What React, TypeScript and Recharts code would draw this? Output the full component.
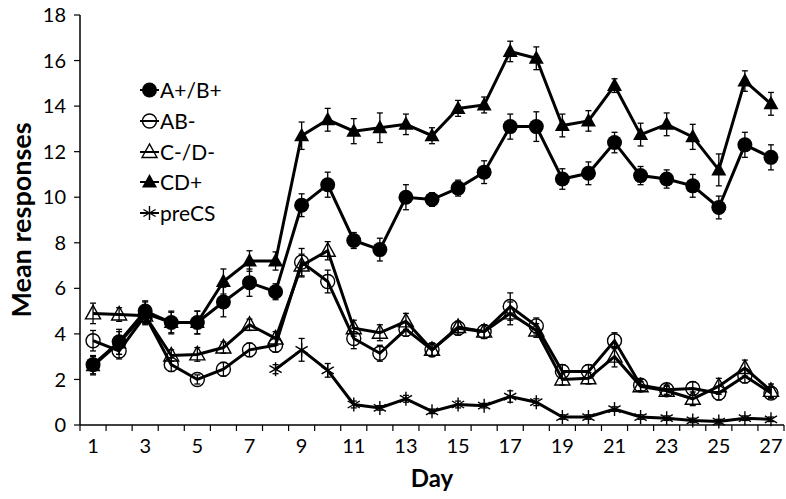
import React from "react"
import { LineChart, Line, XAxis, YAxis, ErrorBar } from "recharts"

const days = [1, 2, 3, 4, 5, 6, 7, 8, 9, 10, 11, 12, 13, 14, 15, 16, 17, 18, 19, 20, 21, 22, 23, 24, 25, 26, 27]

const abPlus = [2.65, 3.65, 5.0, 4.5, 4.5, 5.4, 6.25, 5.85, 9.65, 10.55, 8.1, 7.7, 10.0, 9.9, 10.4, 11.1, 13.1, 13.1, 10.8, 11.05, 12.4, 10.95, 10.8, 10.5, 9.55, 12.3, 11.75]
const abPlusErr = [0.4, 0.55, 0.45, 0.5, 0.5, 0.65, 0.6, 0.35, 0.5, 0.55, 0.35, 0.5, 0.55, 0.3, 0.35, 0.5, 0.55, 0.65, 0.45, 0.5, 0.45, 0.4, 0.4, 0.5, 0.5, 0.55, 0.55]

const abMinus = [3.7, 3.25, 4.8, 2.65, 2.0, 2.45, 3.3, 3.5, 7.15, 6.3, 3.8, 3.15, 4.2, 3.3, 4.25, 4.1, 5.2, 4.35, 2.35, 2.35, 3.7, 1.75, 1.55, 1.6, 1.4, 2.15, 1.4]
const abMinusErr = [0.45, 0.35, 0.35, 0.3, 0.2, 0.3, 0.3, 0.3, 0.6, 0.5, 0.45, 0.35, 0.3, 0.25, 0.3, 0.3, 0.6, 0.35, 0.3, 0.3, 0.35, 0.25, 0.2, 0.3, 0.3, 0.3, 0.25]

const cdMinus = [4.9, 4.85, 4.8, 3.05, 3.1, 3.4, 4.4, 3.8, 7.0, 7.65, 4.25, 4.05, 4.55, 3.3, 4.3, 4.1, 4.9, 4.15, 2.0, 2.05, 3.0, 1.7, 1.5, 1.15, 1.7, 2.5, 1.5]
const cdMinusErr = [0.45, 0.3, 0.3, 0.25, 0.3, 0.25, 0.25, 0.3, 0.5, 0.4, 0.35, 0.35, 0.35, 0.3, 0.25, 0.3, 0.5, 0.3, 0.25, 0.25, 0.45, 0.2, 0.2, 0.3, 0.35, 0.35, 0.3]

const cdPlus = [2.6, 3.6, 4.9, 4.5, 4.5, 6.3, 7.2, 7.2, 12.7, 13.4, 12.9, 13.05, 13.2, 12.7, 13.9, 14.05, 16.4, 16.1, 13.15, 13.35, 14.9, 12.75, 13.2, 12.65, 11.2, 15.1, 14.1]
const cdPlusErr = [0.4, 0.5, 0.5, 0.45, 0.5, 0.55, 0.45, 0.4, 0.6, 0.5, 0.55, 0.65, 0.45, 0.35, 0.35, 0.35, 0.45, 0.5, 0.5, 0.45, 0.3, 0.5, 0.5, 0.55, 0.7, 0.45, 0.5]

const preCS = [null, null, null, null, null, null, null, 2.45, 3.3, 2.4, 0.9, 0.75, 1.15, 0.6, 0.9, 0.85, 1.25, 1.0, 0.35, 0.35, 0.7, 0.35, 0.3, 0.2, 0.15, 0.3, 0.25]
const preCSErr = [null, null, null, null, null, null, null, 0.2, 0.5, 0.3, 0.15, 0.1, 0.15, 0.1, 0.15, 0.1, 0.25, 0.15, 0.1, 0.1, 0.1, 0.1, 0.1, 0.1, 0.1, 0.1, 0.1]

const yTicks = [0, 2, 4, 6, 8, 10, 12, 14, 16, 18]
const dayBounds = [0.5, ...days.map((d) => d + 0.5)]

const data = days.map((day, i) => ({
  day,
  abPlus: abPlus[i],
  abPlusErr: abPlusErr[i],
  abMinus: abMinus[i],
  abMinusErr: abMinusErr[i],
  cdMinus: cdMinus[i],
  cdMinusErr: cdMinusErr[i],
  cdPlus: cdPlus[i],
  cdPlusErr: cdPlusErr[i],
  preCS: preCS[i],
  preCSErr: preCSErr[i],
}))

const W = 786
const H = 499
const LEFT = 80
const RIGHT = 2
const bandPx = (W - LEFT - RIGHT) / days.length
const FONT = "Lato, 'Noto Sans', sans-serif"

type Shape = "filledCircle" | "openCircle" | "openTriangle" | "filledTriangle" | "star"

function Marker({ shape, cx, cy }: { shape: Shape; cx: number; cy: number }) {
  if (shape === "filledCircle") return <circle cx={cx} cy={cy} r={7.5} fill="#000" />
  if (shape === "openCircle") return <circle cx={cx} cy={cy} r={7} fill="none" stroke="#000" strokeWidth={1.4} />
  if (shape === "openTriangle" || shape === "filledTriangle") {
    const pts = `${cx},${cy - 8} ${cx - 7.5},${cy + 5.5} ${cx + 7.5},${cy + 5.5}`
    return shape === "openTriangle"
      ? <polygon points={pts} fill="none" stroke="#000" strokeWidth={1.4} />
      : <polygon points={pts} fill="#000" />
  }
  const r = 7
  return (
    <g stroke="#000" strokeWidth={1.4}>
      <line x1={cx} y1={cy - r} x2={cx} y2={cy + r} />
      <line x1={cx - r * 0.87} y1={cy - r * 0.5} x2={cx + r * 0.87} y2={cy + r * 0.5} />
      <line x1={cx - r * 0.87} y1={cy + r * 0.5} x2={cx + r * 0.87} y2={cy - r * 0.5} />
    </g>
  )
}

const series: { key: string; name: string; shape: Shape }[] = [
  { key: "abPlus", name: "A+/B+", shape: "filledCircle" },
  { key: "abMinus", name: "AB-", shape: "openCircle" },
  { key: "cdMinus", name: "C-/D-", shape: "openTriangle" },
  { key: "cdPlus", name: "CD+", shape: "filledTriangle" },
  { key: "preCS", name: "preCS", shape: "star" },
]

const makeDot = (shape: Shape) => (props: any) => {
  const { cx, cy, index, value } = props
  if (value == null || cy == null) return <g key={`d-${shape}-${index}`} />
  return <Marker key={`d-${shape}-${index}`} shape={shape} cx={cx} cy={cy} />
}

function DayTick(props: any) {
  const { x, y, payload } = props
  const d = payload.value + 0.5
  if (d > 27 || d % 2 !== 1) return <g />
  return (
    <text x={x + bandPx / 2} y={y} dy={20} textAnchor="middle" fontSize={20} fontFamily={FONT} fill="#000">
      {d}
    </text>
  )
}

function LegendBox() {
  return (
    <div style={{ position: "absolute", left: 139, top: 75, fontFamily: FONT, fontSize: 21, color: "#000" }}>
      {series.map((s) => (
        <div key={s.key} style={{ display: "flex", alignItems: "center", height: 30.7 }}>
          <svg width={21} height={20} style={{ display: "block" }}>
            <line x1={1} y1={10} x2={20} y2={10} stroke="#000" strokeWidth={2} />
            <Marker shape={s.shape} cx={10.5} cy={10} />
          </svg>
          <span style={{ lineHeight: "20px" }}>{s.name}</span>
        </div>
      ))}
    </div>
  )
}

export default function App() {
  return (
    <div style={{ position: "absolute", left: 0, top: 0, width: W, height: H, background: "#fff" }}>
      <LineChart width={W} height={H} data={data} margin={{ top: 15, right: RIGHT, bottom: 0, left: 0 }}>
        <XAxis
          dataKey="day"
          type="number"
          domain={[0.5, 27.5]}
          ticks={dayBounds}
          interval={0}
          tick={<DayTick />}
          tickSize={6}
          height={74}
          axisLine={{ stroke: "#000", strokeWidth: 1.5 }}
          tickLine={{ stroke: "#000", strokeWidth: 1.2 }}
          label={{ value: "Day", position: "insideBottom", offset: 12, style: { fontFamily: FONT, fontSize: 24, fontWeight: 700, fill: "#000" } }}
        />
        <YAxis
          domain={[0, 18]}
          ticks={yTicks}
          interval={0}
          width={LEFT}
          tickSize={6}
          tickMargin={8}
          axisLine={{ stroke: "#000", strokeWidth: 1.5 }}
          tickLine={{ stroke: "#000", strokeWidth: 1.2 }}
          tick={{ fontFamily: FONT, fontSize: 20, fill: "#000" }}
          label={{ value: "Mean responses", angle: -90, position: "insideLeft", offset: 21, style: { textAnchor: "middle", fontFamily: FONT, fontSize: 27, fontWeight: 700, fill: "#000" } }}
        />
        {series.map((s) => (
          <Line
            key={s.key}
            dataKey={s.key}
            name={s.name}
            stroke="#000"
            strokeWidth={3}
            dot={makeDot(s.shape)}
            activeDot={false}
            isAnimationActive={false}
          >
            <ErrorBar dataKey={`${s.key}Err`} width={3} stroke="#000" strokeWidth={1.3} direction="y" />
          </Line>
        ))}
      </LineChart>
      <LegendBox />
    </div>
  )
}
